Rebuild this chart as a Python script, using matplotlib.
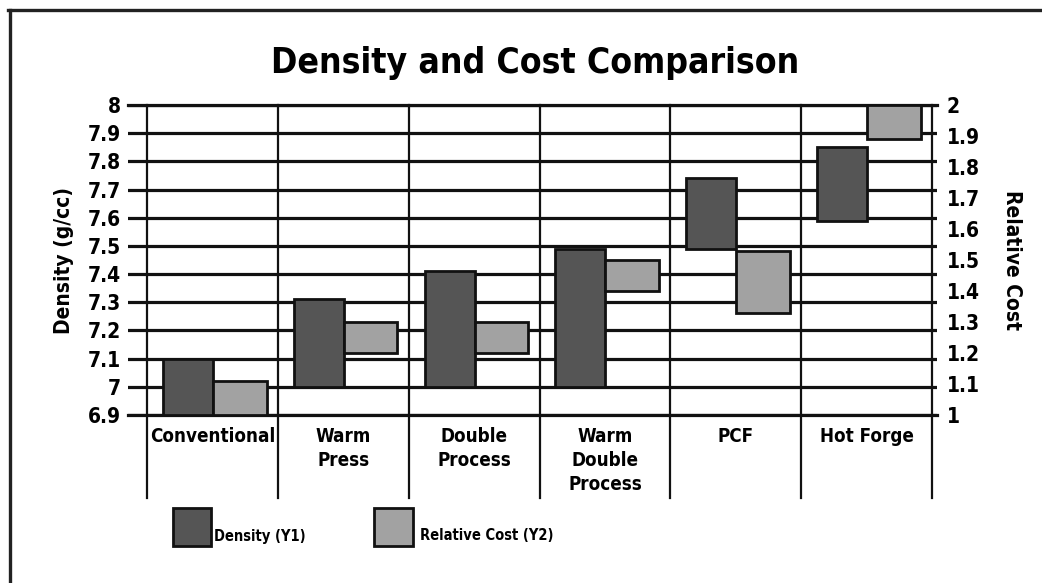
import numpy as np
import matplotlib.pyplot as plt
from matplotlib.lines import Line2D
from matplotlib.patches import Rectangle

plt.rcParams['font.family'] = ['DejaVu Sans']
plt.rcParams['font.stretch'] = 'condensed'
plt.rcParams['font.weight'] = 'bold'
plt.rcParams['axes.labelweight'] = 'bold'

categories = ['Conventional', 'Warm\nPress', 'Double\nProcess',
              'Warm\nDouble\nProcess', 'PCF', 'Hot Forge']
density_low = [6.9, 7.0, 7.0, 7.0, 7.49, 7.59]
density_high = [7.1, 7.31, 7.41, 7.49, 7.74, 7.85]
cost_low = [1.0, 1.2, 1.2, 1.4, 1.33, 1.89]
cost_high = [1.11, 1.3, 1.3, 1.5, 1.53, 2.0]
density_ticks = [6.9, 7.0, 7.1, 7.2, 7.3, 7.4, 7.5, 7.6, 7.7, 7.8, 7.9, 8.0]
cost_ticks = [1.0, 1.1, 1.2, 1.3, 1.4, 1.5, 1.6, 1.7, 1.8, 1.9, 2.0]

DARK = '#555555'
LIGHT = '#a2a2a2'

W, H = 1042, 583
fig = plt.figure(figsize=(W / 100, H / 100), dpi=100)
ax = fig.add_axes([128 / W, 1 - 415 / H, 809 / W, 310 / H])
ax2 = ax.twinx()

x = np.arange(len(categories))

ax.bar(x + 0.122, np.array(density_high) - np.array(density_low),
       bottom=density_low, width=0.382, align='edge',
       color=DARK, edgecolor='#111111', linewidth=2, zorder=3)
ax2.bar(x + 0.504, np.array(cost_high) - np.array(cost_low),
        bottom=cost_low, width=0.41, align='edge',
        color=LIGHT, edgecolor='#111111', linewidth=2, zorder=3)

ax.set_xlim(-0.145, 6.038)
ax.set_ylim(6.9, 8.0)
ax2.set_ylim(1.0, 2.0)

ax.set_yticks(density_ticks, ['%g' % t for t in density_ticks])
ax2.set_yticks(cost_ticks, ['%g' % t for t in cost_ticks])
ax.tick_params(axis='y', length=0, pad=5, labelsize=15)
ax2.tick_params(axis='y', length=0, pad=7, labelsize=15)

ax.set_xticks(x + 0.5, categories)
ax.tick_params(axis='x', length=0, pad=9, labelsize=13.5)
for lbl in ax.get_xticklabels():
    lbl.set_linespacing(1.3)
    lbl.set_verticalalignment('top')

ax.set_axisbelow(True)
ax.yaxis.grid(True, color='#111111', linewidth=2.3)
ax.axhline(6.9, color='#111111', linewidth=2.3, clip_on=False, zorder=1)
ax.axhline(8.0, color='#111111', linewidth=2.3, clip_on=False, zorder=1)
for i in range(len(categories) + 1):
    ax.axvline(i, ymin=-0.268, ymax=1, color='#111111', linewidth=1.6,
               clip_on=False, zorder=1)

for a in (ax, ax2):
    for s in a.spines.values():
        s.set_visible(False)
ax2.patch.set_visible(False)

ax.set_ylabel('Density (g/cc)', fontsize=15, labelpad=10)
ax2.set_ylabel('Relative Cost', fontsize=15, rotation=270, labelpad=30)

fig.text(535 / W, 1 - 63 / H, 'Density and Cost Comparison',
         ha='center', va='center', fontsize=25.5, fontweight='bold')

# legend drawn by hand to keep its loose layout
fig.patches.append(Rectangle((173 / W, 1 - 546 / H), 38 / W, 38 / H,
                             transform=fig.transFigure, facecolor=DARK,
                             edgecolor='#111111', linewidth=2))
fig.patches.append(Rectangle((374 / W, 1 - 546 / H), 39 / W, 38 / H,
                             transform=fig.transFigure, facecolor=LIGHT,
                             edgecolor='#111111', linewidth=2))
fig.text(214 / W, 1 - 536 / H, 'Density (Y1)', va='center', fontsize=10.5)
fig.text(420 / W, 1 - 536 / H, 'Relative Cost (Y2)', va='center', fontsize=10.5)

# frame on top and left edge
fig.add_artist(Line2D([8 / W, 1], [1 - 9.5 / H, 1 - 9.5 / H],
                      transform=fig.transFigure, color='#222222', linewidth=2.4))
fig.add_artist(Line2D([9.5 / W, 9.5 / W], [0, 1 - 9.5 / H],
                      transform=fig.transFigure, color='#222222', linewidth=2.4))

fig.savefig('out.png', dpi=100)
